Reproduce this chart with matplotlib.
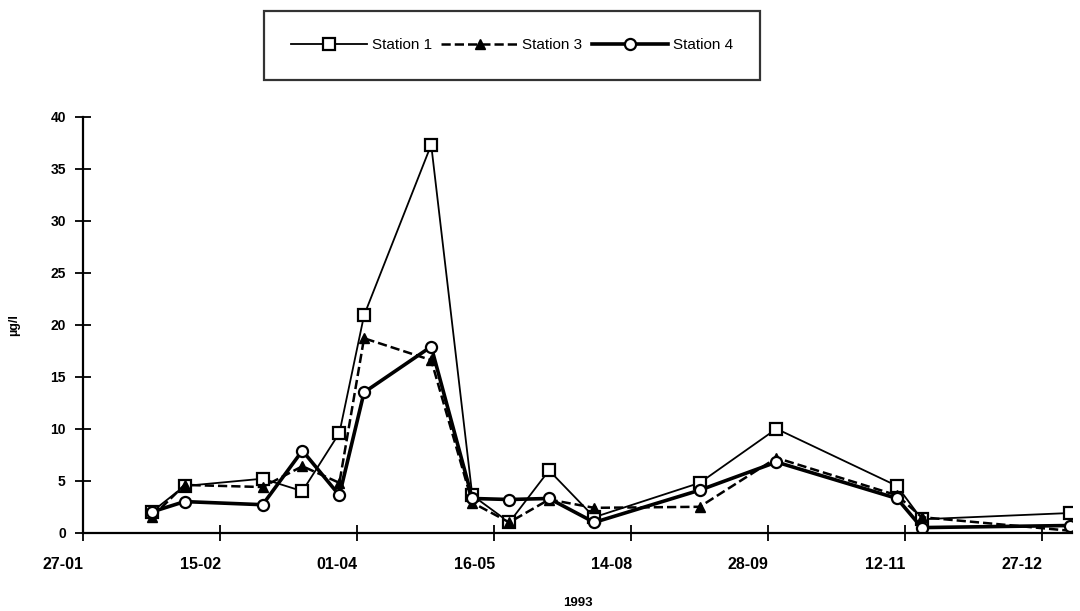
import matplotlib.pyplot as plt
import matplotlib.transforms as mtransforms

plt.rcParams['font.family'] = ['Liberation Sans', 'DejaVu Sans']

# Sampling positions in tick units (ticks are evenly spaced on the chart)
x_pos = [0.50, 0.74, 1.31, 1.60, 1.87, 2.05, 2.54, 2.84, 3.11, 3.40,
         3.73, 4.50, 5.06, 5.94, 6.12, 7.20]
tick_labels = ['27-01', '15-02', '01-04', '16-05', '14-08', '28-09', '12-11', '27-12']

station1 = [2.0, 4.5, 5.2, 4.0, 9.6, 20.9, 37.3, 3.6, 1.0, 6.0,
            1.5, 4.8, 10.0, 4.5, 1.3, 1.9]
station3 = [1.5, 4.6, 4.4, 6.4, 4.8, 18.7, 16.6, 2.9, 1.0, 3.2,
            2.4, 2.5, 7.2, 3.6, 1.5, 0.2]
station4 = [2.0, 3.0, 2.7, 7.9, 3.6, 13.5, 17.9, 3.3, 3.2, 3.3,
            1.0, 4.1, 6.8, 3.3, 0.5, 0.7]

fig = plt.figure(figsize=(10.8, 6.11), dpi=100)
ax = fig.add_axes([0.077, 0.128, 0.916, 0.681])

ax.plot(x_pos, station1, '-', color='black', lw=1.3, marker='s', ms=8,
        mfc='white', mec='black', mew=1.6, label='Station 1')
ax.plot(x_pos, station3, '--', color='black', lw=1.8, marker='^', ms=7.5,
        mfc='black', mec='black', label='Station 3')
ax.plot(x_pos, station4, '-', color='black', lw=2.6, marker='o', ms=8,
        mfc='white', mec='black', mew=1.6, label='Station 4')

ax.set_xlim(0, 7.22)
ax.set_ylim(0, 40)
ax.set_xticks(range(len(tick_labels)))
ax.set_xticklabels(tick_labels, fontsize=11.5, fontweight='bold')
ax.set_yticks(range(0, 41, 5))
ax.set_yticklabels([str(v) for v in range(0, 41, 5)], fontsize=10, fontweight='bold')
ax.tick_params(axis='both', direction='inout', length=11, width=1.3)
ax.tick_params(axis='x', pad=12)
ax.tick_params(axis='y', pad=7)

# shift x tick labels slightly left, as in the original
offset = mtransforms.ScaledTranslation(-0.2, 0, fig.dpi_scale_trans)
for lab in ax.get_xticklabels():
    lab.set_transform(lab.get_transform() + offset)

for side in ['top', 'right']:
    ax.spines[side].set_visible(False)
ax.spines['left'].set_linewidth(1.6)
ax.spines['bottom'].set_linewidth(1.6)

ax.set_xlabel('1993', fontsize=9.5, fontweight='bold', labelpad=18)
ax.set_ylabel('µg/l', fontsize=9, fontweight='bold', labelpad=22)

leg = fig.legend(loc='center', bbox_to_anchor=(0.474, 0.926), ncol=3,
                 fontsize=11, handlelength=5, columnspacing=0.6,
                 handletextpad=0.3, frameon=True, fancybox=False,
                 borderpad=1.8, edgecolor='black')
leg.get_frame().set_linewidth(1.6)

fig.savefig('out.png', dpi=100)
